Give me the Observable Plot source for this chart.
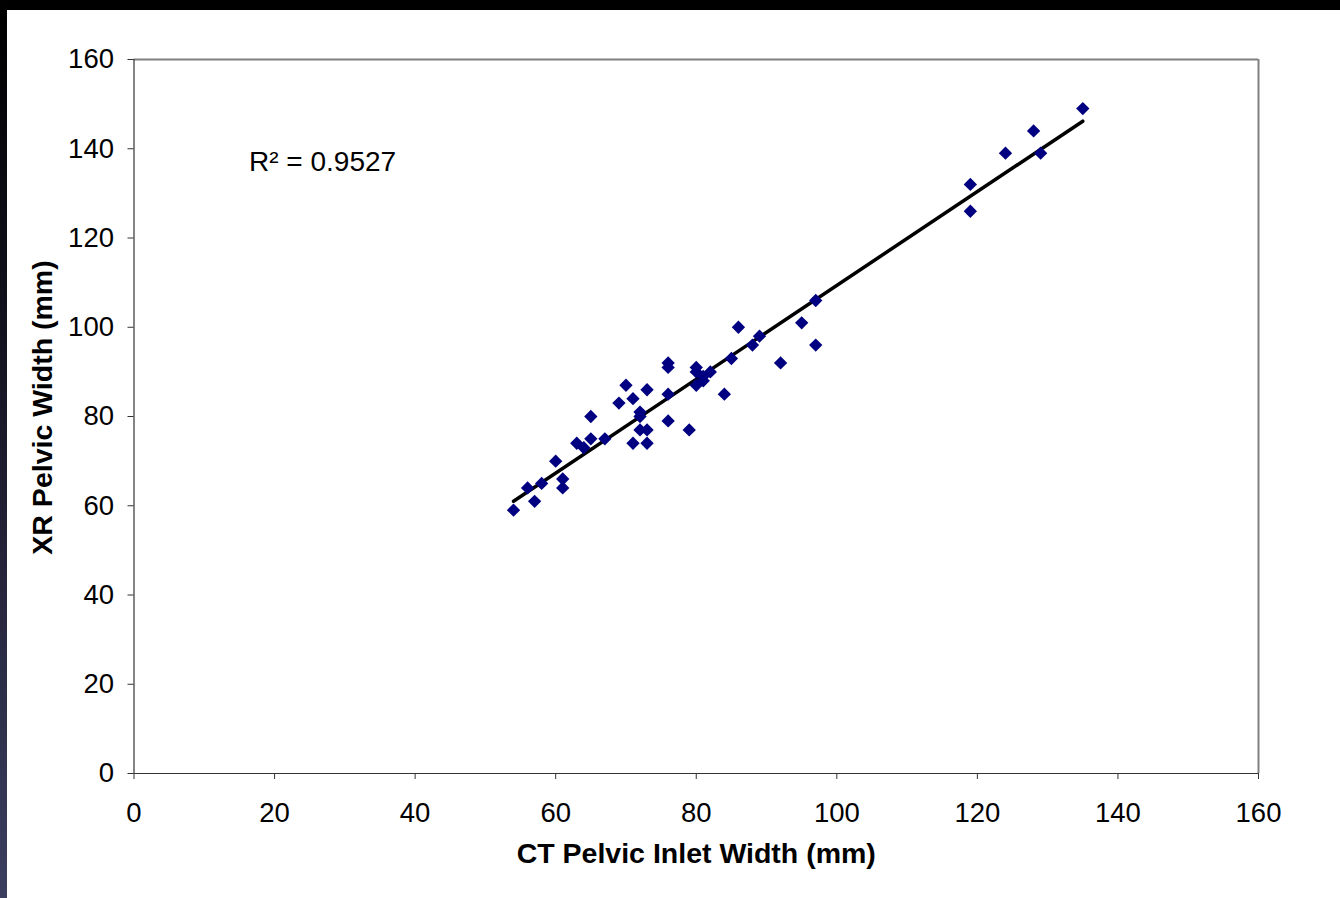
<!DOCTYPE html>
<html>
<head>
<meta charset="utf-8">
<script src="https://cdn.jsdelivr.net/npm/d3@7"></script>
<script src="https://cdn.jsdelivr.net/npm/@observablehq/plot@0.6"></script>
<style>
  html, body { margin: 0; padding: 0; }
  body {
    width: 1340px; height: 898px; overflow: hidden;
    background: #000;
    position: relative;
    font-family: Arial, "Liberation Sans", sans-serif;
  }
  #strip {
    position: absolute; left: 0; top: 0; width: 7px; height: 898px;
    background: linear-gradient(to bottom, #000 0%, #141422 40%, #3c3e60 100%);
  }
  #chart {
    position: absolute; left: 7px; top: 10px; width: 1333px; height: 888px;
    background: #fff;
  }
  #chart svg { display: block; }
</style>
</head>
<body>
<div id="strip"></div>
<div id="chart"></div>
<script>
// CT pelvic inlet width vs. XR pelvic width, in mm
const ctWidth = [54, 56, 57, 58, 60, 61, 61, 63, 64, 65, 65, 67, 69, 70, 71, 71, 72, 72, 72, 73, 73, 73,
  76, 76, 76, 76, 79, 80, 80, 80, 81, 81, 82, 84, 85, 86, 88, 89, 92, 95, 97, 97, 119, 119, 124, 128, 129, 135];
const xrWidth = [59, 64, 61, 65, 70, 66, 64, 74, 73, 75, 80, 75, 83, 87, 84, 74, 81, 80, 77, 77, 86, 74,
  92, 91, 85, 79, 77, 91, 90, 87, 88, 89, 90, 85, 93, 100, 96, 98, 92, 101, 106, 96, 132, 126, 139, 144, 139, 149];
const axisTicks = [0, 20, 40, 60, 80, 100, 120, 140, 160];
const rSquaredLabel = "R\u00B2 = 0.9527";

const points = ctWidth.map((x, i) => ({x, y: xrWidth[i]}));

const chart = Plot.plot({
  width: 1333,
  height: 888,
  marginLeft: 126.5,
  marginRight: 82,
  marginTop: 49,
  marginBottom: 125,
  style: {fontFamily: "Arial, 'Liberation Sans', sans-serif", fontSize: "27px", color: "#000", background: "#fff"},
  x: {domain: [0, 160], ticks: axisTicks, label: null},
  y: {domain: [0, 160], ticks: axisTicks, label: null},
  marks: [
    // plot-area border (top and right)
    Plot.ruleY([160], {stroke: "#808080", strokeWidth: 2}),
    Plot.ruleX([160], {stroke: "#808080", strokeWidth: 2}),
    Plot.axisX({ticks: axisTicks, tickSize: 6, tickPadding: 23, stroke: "#333", label: null, fontSize: 27.5}),
    Plot.axisY({ticks: axisTicks, tickSize: 6, tickPadding: 14, stroke: "#333", label: null, fontSize: 27.5}),
    Plot.ruleX([0], {stroke: "#333", strokeWidth: 1.2}),
    Plot.ruleY([0], {stroke: "#333", strokeWidth: 1.2}),
    Plot.linearRegressionY(points, {x: "x", y: "y", ci: 0, stroke: "#000", strokeWidth: 3.5}),
    Plot.dot(points, {x: "x", y: "y", symbol: "diamond2", r: 6, fill: "#000080", stroke: "none"}),
    Plot.text([rSquaredLabel], {
      frameAnchor: "top-left", textAnchor: "start", lineAnchor: "middle", dx: 115, dy: 103,
      fontSize: 28, fill: "#000"
    }),
    // axis titles
    Plot.text(["CT Pelvic Inlet Width (mm)"], {
      frameAnchor: "bottom", lineAnchor: "bottom", dy: 89, fontSize: 28.5, fontWeight: "bold", fill: "#000"
    }),
    Plot.text(["XR Pelvic Width (mm)"], {
      frameAnchor: "left", textAnchor: "middle", lineAnchor: "middle", dx: -91.5, dy: -9, rotate: -90,
      fontSize: 28.5, fontWeight: "bold", fill: "#000"
    })
  ]
});
document.getElementById("chart").append(chart);
</script>
</body>
</html>
